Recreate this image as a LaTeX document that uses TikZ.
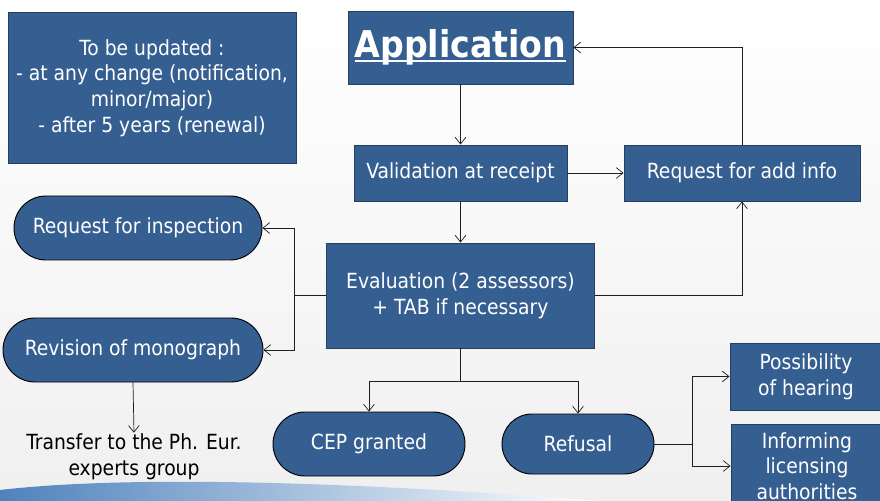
\documentclass[tikz,border=0pt]{standalone}
\usepackage{fontspec}
\setmainfont{DejaVu Sans Condensed}
\usetikzlibrary{positioning,arrows.meta,calc,shapes.misc}
\definecolor{boxblue}{HTML}{365F91}
\definecolor{boxedge}{HTML}{243F60}
\definecolor{wire}{HTML}{1E1E1E}
\definecolor{wave}{HTML}{4F82BD}
\def\pu{0.3mm}
% thick underline for the title box
\newcommand{\boldul}[1]{\setbox0\hbox{#1}\rlap{\rule[-4pt]{\wd0}{2.4pt}}\box0}

\begin{document}
\begin{tikzpicture}[
  x=0.3mm, y=-0.3mm,
  font=\fontsize{17.8}{21.8}\selectfont,
  bluebox/.style={
    rectangle, draw=boxedge, line width=0.8pt,
    fill=boxblue, text=white, align=center, inner sep=0pt
  },
  pill/.style={
    rounded rectangle, draw=black, line width=0.8pt,
    fill=boxblue, text=white, align=center, inner sep=0pt
  },
  arr/.style={-{Straight Barb[length=2mm,width=3.2mm]}, line width=0.6pt, draw=wire},
  link/.style={line width=0.6pt, draw=wire}
]
\useasboundingbox (0,0) rectangle (880,501);

% Background and wave
\shade[top color=white, bottom color=gray!12] (0,0) rectangle (880,501);
\shade[left color=wave, right color=white]
  (0,501) -- (0,490) .. controls (120,476) and (330,480) .. (600,501) -- cycle;

% Boxes
\node[bluebox, minimum width=288*\pu, minimum height=151*\pu] (update) at (152,88)
  {To be updated :\\- at any change (notification,\\minor/major)\\- after 5 years (renewal)};
\node[bluebox, minimum width=225*\pu, minimum height=73*\pu] (app) at (460.5,47.5)
  {\fontsize{31.5}{36}\selectfont\bfseries\boldul{Application}};
\node[bluebox, minimum width=213*\pu, minimum height=56*\pu] (val) at (460.5,173) {Validation at receipt};
\node[bluebox, minimum width=236*\pu, minimum height=56*\pu] (info) at (742,173) {Request for add info};
\node[bluebox, minimum width=268*\pu, minimum height=105*\pu] (eval) at (460.5,295.5)
  {Evaluation (2 assessors)\\+ TAB if necessary};
\node[pill, minimum width=248*\pu, minimum height=64*\pu] (insp) at (138,228) {Request for inspection};
\node[pill, minimum width=260*\pu, minimum height=64*\pu] (revis) at (133,350) {Revision of monograph};
\node[align=center, inner sep=1pt] (transfer) at (134,457) {Transfer to the Ph. Eur.\\experts group};
\node[pill, minimum width=192*\pu, minimum height=64*\pu] (cep) at (369,444) {CEP granted};
\node[pill, minimum width=152*\pu, minimum height=60*\pu] (refusal) at (578,444) {Refusal};
\node[bluebox, minimum width=152*\pu, minimum height=67*\pu] (hearing) at (806,376.5) {Possibility\\of hearing};
\node[bluebox, minimum width=152*\pu, minimum height=84*\pu] (inform) at (807,466)
  {Informing\\licensing\\authorities};

% Main flow
\draw[arr] (app) -- (val);
\draw[arr] (val) -- (eval);
\draw[arr] (val) -- (info);
\draw[arr] (info.north) |- (app.east);
\draw[arr] (eval.east) -| (info.south);

% Left branch
\draw[link] (eval.west) -- ++(-32,0) coordinate (lsplit);
\draw[arr] (lsplit) |- (insp.east);
\draw[arr] (lsplit) |- (revis.east);
\draw[arr] (revis.south) -- (transfer.north);

% Decision branch
\draw[link] (eval.south) -- ++(0,33) coordinate (dsplit);
\draw[arr] (dsplit) -| (cep.north);
\draw[arr] (dsplit) -| (refusal.north);

% After refusal
\draw[link] (refusal.east) -- ++(38,0) coordinate (rsplit);
\draw[arr] (rsplit) |- (hearing.west);
\draw[arr] (rsplit) |- (inform.west);

\end{tikzpicture}
\end{document}
